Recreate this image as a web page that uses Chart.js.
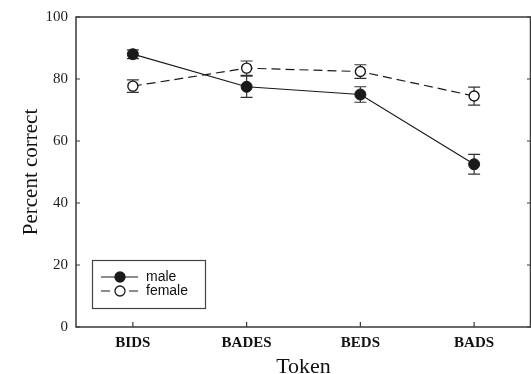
<!DOCTYPE html>
<html>
<head>
<meta charset="utf-8">
<script src="https://cdn.jsdelivr.net/npm/chart.js@4/dist/chart.umd.min.js"></script>
<style>
  html, body { margin: 0; padding: 0; background: #fff; }
  #wrap { width: 531px; height: 374px; }
</style>
</head>
<body>
<div id="wrap"><canvas id="c" width="531" height="374"></canvas></div>
<script>
// Token categories and percent-correct means with their error bars
const tokens = ['BIDS', 'BADES', 'BEDS', 'BADS'];
const maleValues = [88, 77.5, 75, 52.5];
const maleErrors = [1.4, 3.4, 2.5, 3.2];
const femaleValues = [77.7, 83.5, 82.4, 74.5];
const femaleErrors = [2.0, 2.3, 2.2, 2.9];
const yTicks = [0, 20, 40, 60, 80, 100];

const ink = '#1a1a1a';
const frameColor = '#3a3a3a';

// Error bars drawn behind the markers
const errorBars = {
  id: 'errorBars',
  beforeDatasetsDraw(chart) {
    const ctx = chart.ctx;
    const x = chart.scales.x, y = chart.scales.y;
    ctx.save();
    ctx.strokeStyle = '#333';
    ctx.lineWidth = 1.2;
    chart.data.datasets.forEach(ds => {
      ds.data.forEach((v, i) => {
        const e = ds.errors[i];
        const px = x.getPixelForValue(i);
        const top = y.getPixelForValue(v + e);
        const bot = y.getPixelForValue(v - e);
        ctx.beginPath();
        ctx.moveTo(px, top); ctx.lineTo(px, bot);
        ctx.moveTo(px - 6, top); ctx.lineTo(px + 6, top);
        ctx.moveTo(px - 6, bot); ctx.lineTo(px + 6, bot);
        ctx.stroke();
      });
    });
    ctx.restore();
  }
};

// Closed frame with inward tick marks
const frame = {
  id: 'frame',
  afterDatasetsDraw(chart) {
    const ctx = chart.ctx;
    const a = chart.chartArea;
    const x = chart.scales.x, y = chart.scales.y;
    ctx.save();
    ctx.strokeStyle = frameColor;
    ctx.lineWidth = 1.5;
    ctx.strokeRect(a.left, a.top, a.right - a.left - 0.5, a.bottom - a.top);
    ctx.lineWidth = 1.2;
    ctx.beginPath();
    yTicks.forEach(t => {
      const py = y.getPixelForValue(t);
      ctx.moveTo(a.left, py); ctx.lineTo(a.left + 4, py);
      ctx.moveTo(a.right, py); ctx.lineTo(a.right - 4, py);
    });
    tokens.forEach((t, i) => {
      const px = x.getPixelForValue(i);
      ctx.moveTo(px, a.bottom); ctx.lineTo(px, a.bottom - 5);
    });
    ctx.stroke();
    ctx.restore();
  }
};

// Boxed legend inside the lower-left corner of the plot
const boxLegend = {
  id: 'boxLegend',
  afterDraw(chart) {
    const ctx = chart.ctx;
    const a = chart.chartArea;
    const bx = a.left + 16, by = a.bottom - 67, bw = 113, bh = 48;
    ctx.save();
    ctx.strokeStyle = '#444';
    ctx.lineWidth = 1.2;
    ctx.strokeRect(bx + 0.5, by + 0.5, bw, bh);
    chart.data.datasets.forEach((ds, i) => {
      const ly = by + 17 + i * 14;
      ctx.strokeStyle = ink;
      ctx.lineWidth = 1.2;
      ctx.setLineDash(ds.borderDash || []);
      ctx.beginPath();
      ctx.moveTo(bx + 9, ly); ctx.lineTo(bx + 46, ly);
      ctx.stroke();
      ctx.setLineDash([]);
      ctx.beginPath();
      ctx.arc(bx + 28, ly, 5, 0, Math.PI * 2);
      ctx.fillStyle = ds.pointBackgroundColor;
      ctx.fill();
      ctx.lineWidth = 1.3;
      ctx.stroke();
      ctx.fillStyle = '#111';
      ctx.font = '14px "Liberation Sans", Arial, sans-serif';
      ctx.textBaseline = 'middle';
      ctx.fillText(ds.label, bx + 54, ly);
    });
    ctx.restore();
  }
};

new Chart(document.getElementById('c'), {
  type: 'line',
  data: {
    labels: tokens,
    datasets: [
      {
        label: 'male',
        data: maleValues,
        errors: maleErrors,
        borderColor: ink,
        borderWidth: 1.2,
        pointBackgroundColor: ink,
        pointBorderColor: ink,
        pointBorderWidth: 1,
        pointRadius: 5.5,
        tension: 0
      },
      {
        label: 'female',
        data: femaleValues,
        errors: femaleErrors,
        borderColor: ink,
        borderWidth: 1.2,
        borderDash: [9, 5],
        pointBackgroundColor: '#ffffff',
        pointBorderColor: ink,
        pointBorderWidth: 1.4,
        pointRadius: 5,
        tension: 0
      }
    ]
  },
  options: {
    responsive: false,
    animation: false,
    layout: { autoPadding: false, padding: { left: 0, top: 17, right: 0, bottom: 0 } },
    plugins: {
      legend: { display: false },
      tooltip: { enabled: false }
    },
    scales: {
      x: {
        type: 'category',
        offset: true,
        grid: { display: false, drawTicks: false },
        border: { display: false },
        ticks: {
          padding: 7,
          color: '#111',
          font: { family: '"Liberation Serif", "Times New Roman", serif', size: 15, weight: 'bold' }
        },
        title: {
          display: true,
          text: 'Token',
          color: '#111',
          padding: { top: 0, bottom: -6 },
          font: { family: '"Liberation Serif", "Times New Roman", serif', size: 22 }
        },
        afterFit(scale) { scale.height = 47; }
      },
      y: {
        min: 0,
        max: 100,
        afterBuildTicks(scale) { scale.ticks = yTicks.map(v => ({ value: v })); },
        grid: { display: false, drawTicks: false },
        border: { display: false },
        ticks: {
          padding: 8,
          color: '#222',
          font: { family: '"Liberation Serif", "Times New Roman", serif', size: 15 }
        },
        title: {
          display: true,
          text: 'Percent correct',
          color: '#111',
          padding: { top: 19, bottom: 0 },
          font: { family: '"Liberation Serif", "Times New Roman", serif', size: 21 }
        },
        afterFit(scale) { scale.width = 76; }
      }
    }
  },
  plugins: [errorBars, frame, boxLegend]
});
</script>
</body>
</html>
